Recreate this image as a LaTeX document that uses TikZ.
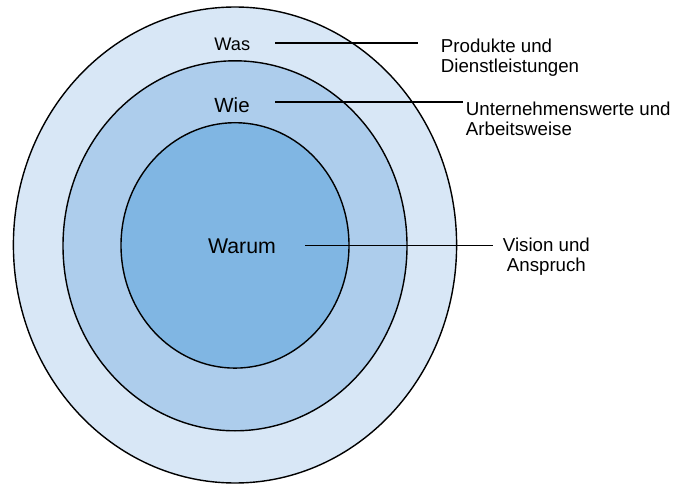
\documentclass[tikz,border=0pt]{standalone}
\usepackage{fontspec}
\setmainfont{Liberation Sans}
\definecolor{ringouter}{RGB}{216,231,246}
\definecolor{ringmiddle}{RGB}{173,205,236}
\definecolor{ringinner}{RGB}{128,182,227}
\begin{document}
\begin{tikzpicture}[x=1bp,y=-1bp,
  ring/.style={draw=black,line width=1.4bp},
  leader/.style={draw=black,line width=1.6bp},
  levellabel/.style={inner sep=0pt,anchor=base},
  sidetext/.style={inner sep=0pt,anchor=base west,font=\fontsize{18.7bp}{20bp}\selectfont}]
\useasboundingbox (0,0) rectangle (674,484);

% three nested rings
\path[ring,fill=ringouter]  (235,245) ellipse [x radius=221.6,y radius=238];
\path[ring,fill=ringmiddle] (235,245.8) ellipse [x radius=172,y radius=185];
\path[ring,fill=ringinner]  (235,245.4) ellipse [x radius=114,y radius=122.7];

% level names
\node[levellabel,font=\fontsize{18.2bp}{20bp}\selectfont] (was)   at (232.3,50.7)  {Was};
\node[levellabel,font=\fontsize{20.5bp}{22bp}\selectfont] (wie)   at (232,112.7)   {Wie};
\node[levellabel,font=\fontsize{21.3bp}{24bp}\selectfont] (warum) at (242,253.3)   {Warum};

% descriptions
\node[sidetext] (produkte) at (440.7,52.7)
  {\begin{tabular}[t]{@{}l@{}}Produkte und\\Dienstleistungen\end{tabular}};
\node[sidetext] (werte) at (465.7,116)
  {\begin{tabular}[t]{@{}l@{}}Unternehmenswerte und\\Arbeitsweise\end{tabular}};
\node[sidetext] (vision) at (502.7,251.7)
  {\begin{tabular}[t]{@{}c@{}}Vision und\\Anspruch\end{tabular}};

% leader lines
\coordinate (was-a)   at (275,43.3);
\coordinate (was-b)   at (418,43.3);
\coordinate (wie-a)   at (275,102);
\coordinate (wie-b)   at (463,102);
\coordinate (warum-a) at (305,245.5);
\coordinate (warum-b) at (493,245.5);
\draw[leader] (was-a) -- (was-b);
\draw[leader] (wie-a) -- (wie-b);
\draw[leader] (warum-a) -- (warum-b);
\end{tikzpicture}
\end{document}
